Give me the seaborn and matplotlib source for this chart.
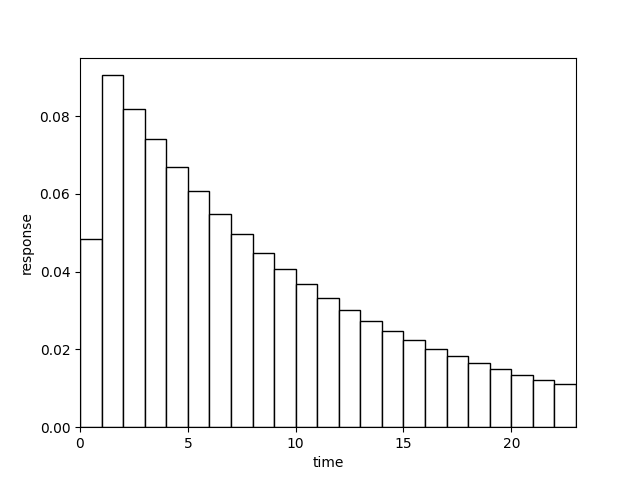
import pandas as pd
import matplotlib
matplotlib.use("Agg")
import matplotlib.pyplot as plt
import seaborn as sns

# left edge of each one-unit time bin
time = list(range(23))
response = [0.0484, 0.0905, 0.0819, 0.0741, 0.0670, 0.0607, 0.0549, 0.0497,
            0.0449, 0.0407, 0.0368, 0.0333, 0.0301, 0.0273, 0.0247, 0.0223,
            0.0202, 0.0183, 0.0165, 0.0150, 0.0135, 0.0122, 0.0111]

df = pd.DataFrame({"time": time, "response": response})

fig, ax = plt.subplots(figsize=(6.4, 4.8), dpi=100)
sns.histplot(data=df, x="time", weights="response", binwidth=1,
             binrange=(0, len(time)), color="white", edgecolor="black",
             alpha=1, linewidth=1, ax=ax)
ax.set_xlim(0, len(time))
ax.set_xlabel("time")
ax.set_ylabel("response")

plt.savefig("out.png")
